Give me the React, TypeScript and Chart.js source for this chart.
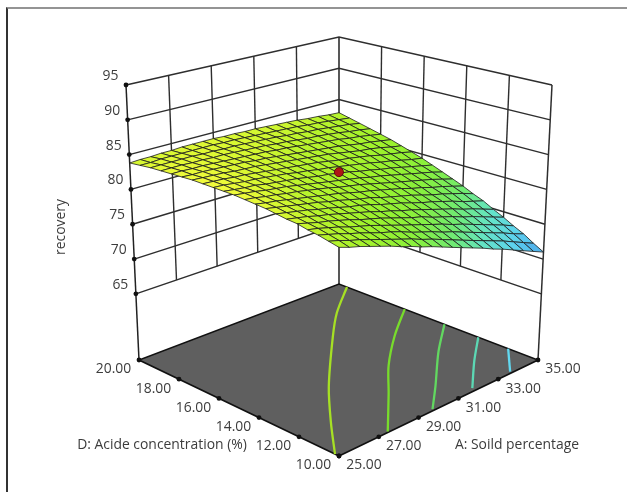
import React, { useEffect, useRef } from "react";
import { Chart, registerables } from "chart.js";

Chart.register(...registerables);

const solidTicks = [25, 27, 29, 31, 33, 35];
const acidTicks = [20, 18, 16, 14, 12, 10];
const recoveryTicks = [95, 90, 85, 80, 75, 70, 65];
const floorRecovery = 55.5;
const designPoint = [30, 15, 83.2];

// rows: acid 10 -> 20 in steps of 0.5, columns: solid 25 -> 35 in steps of 0.5
const recoveryGrid = [
  [82.7, 82.2, 81.8, 81.3, 80.8, 80.3, 79.7, 79.2, 78.6, 78.1, 77.5, 76.9, 76.3, 75.7, 75.1, 74.4, 73.8, 73.1, 72.4, 71.7, 71.0],
  [83.0, 82.6, 82.1, 81.7, 81.2, 80.7, 80.2, 79.7, 79.2, 78.6, 78.1, 77.5, 76.9, 76.3, 75.7, 75.1, 74.5, 73.9, 73.2, 72.5, 71.8],
  [83.3, 82.9, 82.5, 82.0, 81.6, 81.1, 80.6, 80.2, 79.7, 79.1, 78.6, 78.1, 77.5, 77.0, 76.4, 75.8, 75.2, 74.6, 74.0, 73.3, 72.7],
  [83.5, 83.2, 82.8, 82.4, 81.9, 81.5, 81.1, 80.6, 80.1, 79.6, 79.1, 78.6, 78.1, 77.6, 77.0, 76.5, 75.9, 75.3, 74.7, 74.1, 73.4],
  [83.8, 83.4, 83.0, 82.7, 82.3, 81.9, 81.4, 81.0, 80.6, 80.1, 79.6, 79.1, 78.7, 78.1, 77.6, 77.1, 76.5, 76.0, 75.4, 74.8, 74.2],
  [83.9, 83.6, 83.3, 82.9, 82.6, 82.2, 81.8, 81.4, 81.0, 80.5, 80.1, 79.6, 79.2, 78.7, 78.2, 77.7, 77.2, 76.6, 76.1, 75.5, 74.9],
  [84.1, 83.8, 83.5, 83.2, 82.8, 82.5, 82.1, 81.7, 81.4, 81.0, 80.5, 80.1, 79.7, 79.2, 78.7, 78.3, 77.8, 77.3, 76.7, 76.2, 75.7],
  [84.3, 84.0, 83.7, 83.4, 83.1, 82.8, 82.4, 82.1, 81.7, 81.3, 81.0, 80.5, 80.1, 79.7, 79.3, 78.8, 78.3, 77.9, 77.4, 76.9, 76.3],
  [84.4, 84.1, 83.9, 83.6, 83.3, 83.0, 82.7, 82.4, 82.1, 81.7, 81.3, 81.0, 80.6, 80.2, 79.8, 79.3, 78.9, 78.4, 78.0, 77.5, 77.0],
  [84.5, 84.3, 84.0, 83.8, 83.5, 83.3, 83.0, 82.7, 82.4, 82.0, 81.7, 81.4, 81.0, 80.6, 80.2, 79.8, 79.4, 79.0, 78.6, 78.1, 77.6],
  [84.6, 84.4, 84.2, 83.9, 83.7, 83.5, 83.2, 82.9, 82.6, 82.3, 82.0, 81.7, 81.4, 81.0, 80.7, 80.3, 79.9, 79.5, 79.1, 78.7, 78.2],
  [84.6, 84.4, 84.2, 84.1, 83.8, 83.6, 83.4, 83.2, 82.9, 82.6, 82.4, 82.1, 81.8, 81.4, 81.1, 80.7, 80.4, 80.0, 79.6, 79.2, 78.8],
  [84.6, 84.5, 84.3, 84.1, 84.0, 83.8, 83.6, 83.4, 83.1, 82.9, 82.6, 82.4, 82.1, 81.8, 81.5, 81.2, 80.8, 80.5, 80.1, 79.7, 79.4],
  [84.6, 84.5, 84.4, 84.2, 84.1, 83.9, 83.7, 83.5, 83.3, 83.1, 82.9, 82.7, 82.4, 82.1, 81.9, 81.6, 81.3, 80.9, 80.6, 80.3, 79.9],
  [84.6, 84.5, 84.4, 84.3, 84.1, 84.0, 83.9, 83.7, 83.5, 83.3, 83.1, 82.9, 82.7, 82.5, 82.2, 81.9, 81.6, 81.4, 81.1, 80.7, 80.4],
  [84.5, 84.4, 84.4, 84.3, 84.2, 84.1, 84.0, 83.8, 83.7, 83.5, 83.3, 83.1, 82.9, 82.7, 82.5, 82.3, 82.0, 81.7, 81.5, 81.2, 80.9],
  [84.4, 84.4, 84.3, 84.3, 84.2, 84.1, 84.0, 83.9, 83.8, 83.7, 83.5, 83.4, 83.2, 83.0, 82.8, 82.6, 82.4, 82.1, 81.9, 81.6, 81.3],
  [84.3, 84.3, 84.3, 84.2, 84.2, 84.1, 84.1, 84.0, 83.9, 83.8, 83.7, 83.5, 83.4, 83.2, 83.0, 82.9, 82.7, 82.5, 82.2, 82.0, 81.7],
  [84.2, 84.2, 84.2, 84.2, 84.2, 84.1, 84.1, 84.0, 84.0, 83.9, 83.8, 83.7, 83.6, 83.4, 83.3, 83.1, 83.0, 82.8, 82.6, 82.4, 82.1],
  [84.0, 84.0, 84.1, 84.1, 84.1, 84.1, 84.1, 84.1, 84.0, 84.0, 83.9, 83.8, 83.7, 83.6, 83.5, 83.4, 83.2, 83.1, 82.9, 82.7, 82.5],
  [83.8, 83.9, 83.9, 84.0, 84.0, 84.1, 84.1, 84.1, 84.1, 84.0, 84.0, 83.9, 83.9, 83.8, 83.7, 83.6, 83.5, 83.3, 83.2, 83.0, 82.9],
];

// floor contours as [solid, acid] pairs
const contour1 = [[35, 19.6], [33.1, 18.2], [31.5, 16.8], [28.5, 14], [26.6, 12], [25, 10.2]];
const contour2 = [[35, 16.7], [33.1, 15.3], [31.2, 13.7], [29.6, 12.1], [27.5, 10.05]];
const contour3 = [[35, 14.7], [33.2, 13.2], [31.15, 11.3], [29.8, 10.1]];
const contour4 = [[35, 13], [33.5, 11.7], [31.9, 10.2]];
const contour5 = [[35, 11.5], [33.7, 10.1]];
const contours = [contour1, contour2, contour3, contour4, contour5];
const contourColors = ["#a6e024", "#78dc2c", "#62d860", "#5cd8b4", "#62d8f0"];

const colorStops: [number, number[]][] = [
  [71, [74, 165, 232]],
  [73, [92, 208, 240]],
  [75, [100, 228, 200]],
  [77, [112, 234, 112]],
  [79, [136, 240, 60]],
  [81, [156, 242, 44]],
  [83, [184, 244, 44]],
  [84, [218, 248, 50]],
  [84.6, [242, 250, 60]],
];

function surfaceColor(z: number) {
  for (let i = 1; i < colorStops.length; i++) {
    if (z <= colorStops[i][0]) {
      const [z0, c0] = colorStops[i - 1];
      const [z1, c1] = colorStops[i];
      const f = Math.max(0, (z - z0) / (z1 - z0));
      const c = c0.map((v, k) => Math.round(v + (c1[k] - v) * f));
      return `rgb(${c[0]},${c[1]},${c[2]})`;
    }
  }
  const c = colorStops[colorStops.length - 1][1];
  return `rgb(${c[0]},${c[1]},${c[2]})`;
}

// box corners on the page: [solid low/acid low, solid high/acid low, solid low/acid high, solid high/acid high]
const floorBox = [[339, 456], [538, 360], [139, 360], [339, 284]];
const topBox = [[339, 153], [552, 85], [126, 85], [339, 37]];

function bil(box: number[][], a: number, d: number, k: number) {
  return box[0][k] * (1 - a) * (1 - d) + box[1][k] * a * (1 - d) + box[2][k] * (1 - a) * d + box[3][k] * a * d;
}

function project(solid: number, acid: number, z: number) {
  const a = (solid - 25) / 10;
  const d = (acid - 10) / 10;
  const t = (z - floorRecovery) / (95 - floorRecovery);
  return {
    x: bil(floorBox, a, d, 0) * (1 - t) + bil(topBox, a, d, 0) * t,
    y: bil(floorBox, a, d, 1) * (1 - t) + bil(topBox, a, d, 1) * t,
  };
}

function buildDatasets() {
  const list: any[] = [];
  const add = (pts: { x: number; y: number }[], style: any) =>
    list.push({ data: pts, showLine: true, pointRadius: 0, clip: false, parsing: false, ...style });
  const wall = "#2e2e2e";

  // walls
  for (const z of recoveryTicks) {
    add([project(25, 20, z), project(35, 20, z), project(35, 10, z)], { borderColor: wall, borderWidth: z === 95 ? 1.7 : 1.4 });
  }
  for (const s of solidTicks.slice(1, 5)) {
    add([project(s, 20, 65), project(s, 20, 95)], { borderColor: wall, borderWidth: 1.4 });
  }
  for (const c of acidTicks.slice(1, 5)) {
    add([project(35, c, 65), project(35, c, 95)], { borderColor: wall, borderWidth: 1.4 });
  }
  add([project(25, 20, floorRecovery), project(25, 20, 95)], { borderColor: "#222", borderWidth: 1.5 });
  add([project(35, 20, floorRecovery), project(35, 20, 95)], { borderColor: wall, borderWidth: 1.6 });
  add([project(35, 10, floorRecovery), project(35, 10, 95)], { borderColor: wall, borderWidth: 1.5 });

  // floor
  add(
    [project(25, 10, floorRecovery), project(35, 10, floorRecovery), project(35, 20, floorRecovery), project(25, 20, floorRecovery), project(25, 10, floorRecovery)],
    { borderColor: "#111", borderWidth: 1.6, backgroundColor: "#5f5f5f", fill: "shape" }
  );
  contours.forEach((c, i) => {
    add(c.map(([s, a]) => project(s, a, floorRecovery)), { borderColor: contourColors[i], borderWidth: 2.3, tension: 0.3 });
  });

  // tick dots
  const dot = { showLine: false, pointRadius: 2.4, pointBackgroundColor: "#111", pointBorderWidth: 0 };
  list.push({ data: acidTicks.map((c) => project(25, c, floorRecovery)), clip: false, parsing: false, ...dot });
  list.push({ data: solidTicks.map((s) => project(s, 10, floorRecovery)), clip: false, parsing: false, ...dot });
  list.push({ data: recoveryTicks.map((z) => project(25, 20, z)), clip: false, parsing: false, ...dot });

  // surface, back to front
  const cells: { s: number; poly: any[]; z: number }[] = [];
  for (let j = 0; j < 20; j++) {
    for (let i = 0; i < 20; i++) {
      const solid = (k: number) => 25 + k * 0.5;
      const acid = (k: number) => 10 + k * 0.5;
      const poly = [
        project(solid(i), acid(j), recoveryGrid[j][i]),
        project(solid(i + 1), acid(j), recoveryGrid[j][i + 1]),
        project(solid(i + 1), acid(j + 1), recoveryGrid[j + 1][i + 1]),
        project(solid(i), acid(j + 1), recoveryGrid[j + 1][i]),
      ];
      poly.push(poly[0]);
      const z = (recoveryGrid[j][i] + recoveryGrid[j][i + 1] + recoveryGrid[j + 1][i + 1] + recoveryGrid[j + 1][i]) / 4;
      cells.push({ s: i + j, poly, z });
    }
  }
  cells.sort((p, q) => q.s - p.s);
  for (const c of cells) {
    add(c.poly, { borderColor: "#1c1c1c", borderWidth: 0.8, backgroundColor: surfaceColor(c.z), fill: "shape" });
  }

  // design point
  const dp = project(designPoint[0], designPoint[1], designPoint[2]);
  list.push({
    data: [dp], showLine: false, clip: false, parsing: false,
    pointRadius: 4.5, pointBackgroundColor: "#b01616", pointBorderColor: "#5c0c0c", pointBorderWidth: 1,
  });

  const n = list.length;
  list.forEach((ds, i) => (ds.order = n - i));
  return list;
}

const FONT = '"Open Sans", "Noto Sans", sans-serif';

const labelsPlugin = {
  id: "boxLabels",
  afterDraw(chart: any) {
    const { ctx, scales } = chart;
    const px = (p: { x: number; y: number }) => ({ x: scales.x.getPixelForValue(p.x), y: scales.y.getPixelForValue(p.y) });
    ctx.save();
    ctx.fillStyle = "#3c3c3c";
    ctx.font = `13.9px ${FONT}`;
    ctx.textAlign = "center";
    ctx.textBaseline = "middle";
    for (const z of recoveryTicks) {
      const p = px(project(25, 20, z));
      ctx.fillText(String(z), p.x - 15.5, p.y - 9);
    }
    for (const c of acidTicks) {
      const p = px(project(25, c, floorRecovery));
      ctx.fillText(c.toFixed(2), p.x - 25.5, p.y + 9.5);
    }
    for (const s of solidTicks) {
      const p = px(project(s, 10, floorRecovery));
      ctx.fillText(s.toFixed(2), p.x + 25, p.y + 9.5);
    }
    ctx.fillText("D: Acide concentration (%)", scales.x.getPixelForValue(162), scales.y.getPixelForValue(445));
    ctx.fillText("A: Soild percentage", scales.x.getPixelForValue(517), scales.y.getPixelForValue(445));
    ctx.translate(scales.x.getPixelForValue(61), scales.y.getPixelForValue(227));
    ctx.rotate(-Math.PI / 2);
    ctx.fillText("recovery", 0, 0);
    ctx.restore();
  },
};

export default function App() {
  const ref = useRef<HTMLCanvasElement>(null);
  useEffect(() => {
    const chart = new Chart(ref.current as HTMLCanvasElement, {
      type: "scatter",
      data: { datasets: buildDatasets() },
      options: {
        animation: false,
        responsive: false,
        layout: { padding: 0, autoPadding: false },
        plugins: { legend: { display: false }, tooltip: { enabled: false }, title: { display: false } },
        scales: {
          x: { type: "linear", min: 0, max: 627, display: false },
          y: { type: "linear", min: 0, max: 492, reverse: true, display: false },
        },
      },
      plugins: [labelsPlugin],
    } as any);
    return () => chart.destroy();
  }, []);
  return (
    <div style={{ position: "fixed", left: 0, top: 0, width: 627, height: 492, background: "#fff", overflow: "hidden" }}>
      <canvas ref={ref} width={627} height={492} style={{ display: "block" }} />
      <div style={{ position: "absolute", left: 6, top: 7, right: 0, bottom: 0, borderTop: "2px solid #949494", borderLeft: "2px solid #333", pointerEvents: "none" }} />
    </div>
  );
}
